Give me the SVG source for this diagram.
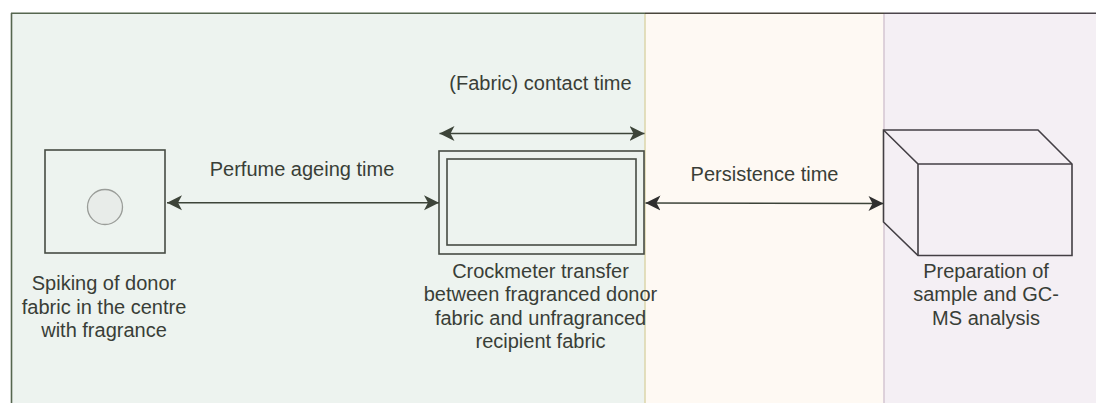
<svg xmlns="http://www.w3.org/2000/svg" width="1096" height="403" viewBox="0 0 1096 403">
  <defs>
    <style>
      .lbl { font-family: "Liberation Sans", Arial, Helvetica, sans-serif; font-size: 20px; fill: #393e37; text-anchor: middle; }
      .shape { fill: none; stroke: #464c44; stroke-width: 1.6; }
      .conn { fill: none; stroke: #3d4439; stroke-width: 1.6; }
    </style>
    <marker id="arrow" viewBox="0 0 16 16" refX="15" refY="8" markerWidth="16" markerHeight="16" markerUnits="userSpaceOnUse" orient="auto-start-reverse">
      <path d="M0,0.5 L15,8 L0,15.5 L4,8 Z" fill="#3d4439"/>
    </marker>
    <marker id="arrowDark" viewBox="0 0 16 16" refX="15" refY="8" markerWidth="16" markerHeight="16" markerUnits="userSpaceOnUse" orient="auto-start-reverse">
      <path d="M0,0.5 L15,8 L0,15.5 L4,8 Z" fill="#2f2f2f"/>
    </marker>
  </defs>

  <rect width="1096" height="403" fill="#ffffff"/>

  <!-- stage lanes -->
  <g id="lanes">
    <rect x="11" y="13" width="634" height="392" fill="#edf3ef"/>
    <rect x="645" y="13" width="239" height="392" fill="#fef9f3"/>
    <rect x="884" y="13" width="212" height="392" fill="#f4eff4"/>
    <line x1="11.5" y1="13" x2="11.5" y2="403" stroke="#56664f" stroke-width="1.6"/>
    <line x1="645" y1="13" x2="645" y2="403" stroke="#ddd7ae" stroke-width="1.6"/>
    <line x1="884" y1="13" x2="884" y2="403" stroke="#d6c8d4" stroke-width="1.6"/>
    <line x1="11" y1="13.3" x2="645" y2="13.3" stroke="#56664f" stroke-width="1.6"/>
    <line x1="645" y1="13.3" x2="884" y2="13.3" stroke="#4a463c" stroke-width="1.6"/>
    <line x1="884" y1="13.3" x2="1096" y2="13.3" stroke="#4b454b" stroke-width="1.6"/>
  </g>

  <!-- donor fabric spiked in the centre -->
  <g id="spiking">
    <rect x="45" y="150" width="120" height="103" class="shape"/>
    <circle cx="105" cy="207" r="17.5" fill="#e8ece9" stroke="#9a9d99" stroke-width="1.3"/>
    <text class="lbl"><tspan x="104" y="290">Spiking of donor</tspan><tspan x="104" y="313.5">fabric in the centre</tspan><tspan x="104" y="337">with fragrance</tspan></text>
  </g>

  <!-- crockmeter transfer -->
  <g id="crockmeter">
    <rect x="439" y="151" width="205" height="103" class="shape"/>
    <rect x="447" y="159" width="189" height="86" class="shape"/>
    <text class="lbl"><tspan x="540.5" y="277.5">Crockmeter transfer</tspan><tspan x="540.5" y="301">between fragranced donor</tspan><tspan x="540.5" y="324.5">fabric and unfragranced</tspan><tspan x="540.5" y="348">recipient fabric</tspan></text>
  </g>

  <!-- sample preparation and GC-MS analysis -->
  <g id="analysis">
    <path d="M883.5,130 L1038,130 L1072,164 L1072,255.5 L918,255.5 L883.5,222 Z" fill="#f4eff4" stroke="#433f44" stroke-width="1.6"/>
    <path d="M883.5,130 L918,164 L1072,164 M918,164 L918,255.5" fill="none" stroke="#433f44" stroke-width="1.6"/>
    <text class="lbl" fill="#3a383b"><tspan x="986" y="277.5">Preparation of</tspan><tspan x="986" y="301">sample and GC-</tspan><tspan x="986" y="324.5">MS analysis</tspan></text>
  </g>

  <!-- timing connectors -->
  <g id="connectors">
    <line x1="167" y1="202.7" x2="439" y2="202.7" class="conn" marker-start="url(#arrow)" marker-end="url(#arrow)"/>
    <text class="lbl" x="302" y="175.7">Perfume ageing time</text>

    <line x1="439.5" y1="133.5" x2="644.5" y2="133.5" class="conn" marker-start="url(#arrow)" marker-end="url(#arrow)"/>
    <text class="lbl" x="540.5" y="89.5">(Fabric) contact time</text>

    <line x1="645.5" y1="203" x2="883.5" y2="203.5" class="conn" stroke="#2f2f2f" marker-start="url(#arrowDark)" marker-end="url(#arrowDark)"/>
    <text class="lbl" x="764.5" y="180.7" fill="#333333">Persistence time</text>
  </g>
</svg>
